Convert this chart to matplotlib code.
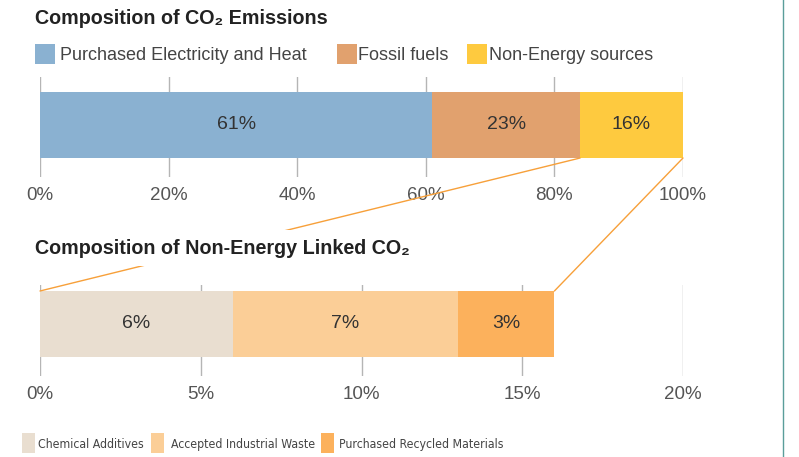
import matplotlib.pyplot as plt
from matplotlib.patches import Rectangle, ConnectionPatch
from matplotlib.lines import Line2D

plt.rcParams['font.family'] = ['Liberation Sans', 'DejaVu Sans']

# overall CO2 split
co2_labels = ["Purchased Electricity and Heat", "Fossil fuels", "Non-Energy sources"]
co2_values = [61, 23, 16]
co2_colors = ["#8AB1D1", "#E1A16E", "#FECA3F"]
co2_ticks = [0, 20, 40, 60, 80, 100]

# breakdown of the non-energy share
ne_labels = ["Chemical Additives", "Accepted Industrial Waste", "Purchased Recycled Materials"]
ne_values = [6, 7, 3]
ne_colors = ["#E9DED0", "#FBCE97", "#FCB15C"]
ne_ticks = [0, 5, 10, 15, 20]

W, H = 799, 457
fig = plt.figure(figsize=(W / 100, H / 100), dpi=100)

text_dark = "#333333"
tick_grey = "#555555"
grid_grey = "#B5B5B5"
link_col = "#F7A03A"

bar_y, bar_h = 52, 66


def px_axes(left, top, right, bottom):
    return fig.add_axes([left / W, 1 - bottom / H, (right - left) / W, (bottom - top) / H])


def stacked(ax, values, colors, ticks, ymax):
    left = 0
    for v, c in zip(values, colors):
        ax.barh(bar_y, v, left=left, height=bar_h, color=c, zorder=2)
        ax.text(left + v / 2, bar_y, f"{v}%", ha="center", va="center",
                fontsize=14, color=text_dark, zorder=3)
        left += v
    ax.set_xlim(ticks[0], ticks[-1])
    ax.set_ylim(0, ymax)
    ax.set_xticks(ticks)
    ax.set_xticklabels([f"{t}%" for t in ticks], fontsize=13.5, color=tick_grey)
    ax.set_yticks([])
    ax.tick_params(axis="x", length=0, pad=7)
    for t in ticks:
        ax.axvline(t, color=grid_grey, lw=1, zorder=1)
    for s in ax.spines.values():
        s.set_visible(False)
    ax.patch.set_alpha(0)


def legend_row(labels, colors, patch_x, text_x, y, pw, ph, **kw):
    for lab, c, px, tx in zip(labels, colors, patch_x, text_x):
        fig.add_artist(Rectangle((px / W, 1 - (y + ph / 2) / H), pw / W, ph / H,
                                 transform=fig.transFigure, facecolor=c, edgecolor="none"))
        fig.text(tx / W, 1 - y / H, lab, va="center_baseline", ha="left",
                 color="#444444", **kw)


ax1 = px_axes(40, 77, 683, 177)
stacked(ax1, co2_values, co2_colors, co2_ticks, 100)

ax2 = px_axes(40, 285, 683, 376)
stacked(ax2, ne_values, ne_colors, ne_ticks, 91)

# titles
fig.text(35 / W, 1 - 19 / H, "Composition of CO\u2082 Emissions", fontsize=14.2,
         fontweight="bold", color="#222222", va="center", ha="left")
fig.text(35 / W, 1 - 248 / H, "Composition of Non-Energy Linked CO\u2082", fontsize=14.2,
         fontweight="bold", color="#222222", va="center", ha="left", zorder=6,
         bbox=dict(facecolor="white", edgecolor="none", pad=6))

# legends
legend_row(co2_labels, co2_colors, [35, 337, 467], [60, 358, 489], 54, 20, 20,
           fontsize=13)
legend_row(ne_labels, ne_colors, [22, 151, 321], [38, 171, 339], 443, 13, 20,
           fontsize=8.8, family="DejaVu Sans", stretch="condensed")

# zoom lines from the non-energy slice down to its breakdown
start = sum(co2_values[:2])
for xa, xb in [(start, 0), (start + co2_values[2], sum(ne_values))]:
    con = ConnectionPatch(xyA=(xa, bar_y - bar_h / 2), coordsA=ax1.transData,
                          xyB=(xb, bar_y + bar_h / 2), coordsB=ax2.transData,
                          color=link_col, lw=1)
    con.set_zorder(4)
    fig.add_artist(con)

# panel edge on the right
fig.add_artist(Line2D([783 / W, 783 / W], [0, 1], transform=fig.transFigure,
                      color="#5A9E9A", lw=1))

fig.savefig("out.png", dpi=100)
